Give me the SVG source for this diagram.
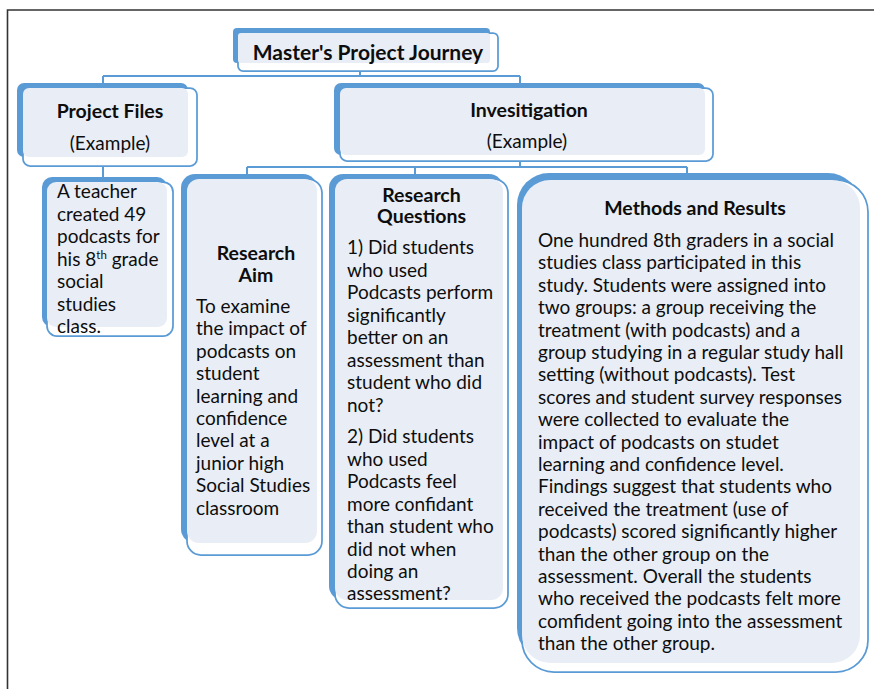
<svg xmlns="http://www.w3.org/2000/svg" width="874" height="689" viewBox="0 0 874 689">
<style>
.bk{fill:#5B9BD5}
.ol{fill:#ffffff;stroke:#5B9BD5;stroke-width:1.75}
.lt{fill:#E9EDF5}
.cn{fill:none;stroke:#5B9BD5;stroke-width:2}
text{font-family:Lato,"Open Sans","Liberation Sans",sans-serif;fill:#0d0d0d}
.h{font-weight:bold;font-size:19.5px;text-anchor:middle}
.b{font-size:19px}
.c{text-anchor:middle}
</style>
<rect x="0" y="0" width="874" height="689" fill="#ffffff"/>
<path d="M7.5,689 V10 H874" fill="none" stroke="#333" stroke-width="1.6"/>

<g id="connectors">
<path class="cn" d="M360,71 V76 M103,76 H520 M103,76 V83 M520,76 V83"/>
<path class="cn" d="M103,166 V177"/>
<path class="cn" d="M520,161 V167 M247,167 H687 M247,167 V174 M415,167 V174 M687,167 V173"/>
</g>

<g id="master">
<rect class="bk" x="233" y="28" width="257" height="35" rx="4"/>
<rect class="ol" x="238" y="33" width="260" height="38" rx="5"/>
<rect class="lt" x="238" y="33" width="252" height="30" rx="3"/>
<text class="h" x="368" y="60" style="font-size:21px">Master's Project Journey</text>
</g>

<g id="project-files">
<rect class="bk" x="17" y="83" width="171" height="74" rx="7"/>
<rect class="ol" x="23" y="88" width="174" height="78" rx="7"/>
<rect class="lt" x="23" y="88" width="165" height="69" rx="6"/>
<text class="h" x="110" y="118">Project Files</text>
<text class="b c" x="110" y="150">(Example)</text>
</g>

<g id="investigation">
<rect class="bk" x="334" y="83" width="371" height="72" rx="7"/>
<rect class="ol" x="340" y="88" width="373" height="73" rx="7"/>
<rect class="lt" x="340" y="88" width="365" height="67" rx="6"/>
<text class="h" x="529" y="117">Invesitigation</text>
<text class="b c" x="527" y="148">(Example)</text>
</g>

<g id="teacher">
<rect class="bk" x="42" y="177" width="125" height="150" rx="10"/>
<rect class="ol" x="47" y="182" width="126" height="154" rx="10"/>
<rect class="lt" x="47" y="182" width="120" height="145" rx="9"/>
<text class="b" x="57" y="198">A teacher</text>
<text class="b" x="57" y="220.5">created 49</text>
<text class="b" x="57" y="243">podcasts for</text>
<text class="b" x="57" y="265.5">his 8<tspan dy="-7" style="font-size:11.5px">th</tspan><tspan dy="7"> grade</tspan></text>
<text class="b" x="57" y="288">social</text>
<text class="b" x="57" y="310.5">studies</text>
<text class="b" x="57" y="333">class.</text>
</g>

<g id="research-aim">
<rect class="bk" x="181" y="174" width="136" height="369" rx="14"/>
<rect class="ol" x="187" y="179" width="135" height="376" rx="14"/>
<rect class="lt" x="187" y="179" width="130" height="364" rx="12"/>
<text class="h" x="256" y="260">Research</text>
<text class="h" x="256" y="282">Aim</text>
<text class="b" x="196" y="313">To examine</text>
<text class="b" x="196" y="335.4">the impact of</text>
<text class="b" x="196" y="357.8">podcasts on</text>
<text class="b" x="196" y="380.2">student</text>
<text class="b" x="196" y="402.6">learning and</text>
<text class="b" x="196" y="425">confidence</text>
<text class="b" x="196" y="447.4">level at a</text>
<text class="b" x="196" y="469.8">junior high</text>
<text class="b" x="196" y="492.2">Social Studies</text>
<text class="b" x="196" y="514.6">classroom</text>
</g>

<g id="research-questions">
<rect class="bk" x="329" y="174" width="174" height="426" rx="14"/>
<rect class="ol" x="335" y="179" width="173" height="429" rx="14"/>
<rect class="lt" x="335" y="179" width="168" height="421" rx="12"/>
<text class="h" x="421.5" y="202">Research</text>
<text class="h" x="421.5" y="223">Questions</text>
<text class="b" x="347" y="254">1) Did students</text>
<text class="b" x="347" y="276.5">who used</text>
<text class="b" x="347" y="299">Podcasts perform</text>
<text class="b" x="347" y="321.5">significantly</text>
<text class="b" x="347" y="344">better on an</text>
<text class="b" x="347" y="366.5">assessment than</text>
<text class="b" x="347" y="389">student who did</text>
<text class="b" x="347" y="411.5">not?</text>
<text class="b" x="347" y="443">2) Did students</text>
<text class="b" x="347" y="465.5">who used</text>
<text class="b" x="347" y="488">Podcasts feel</text>
<text class="b" x="347" y="510.5">more confidant</text>
<text class="b" x="347" y="533">than student who</text>
<text class="b" x="347" y="555.5">did not when</text>
<text class="b" x="347" y="578">doing an</text>
<text class="b" x="347" y="600">assessment?</text>
</g>

<g id="methods-results">
<rect class="bk" x="517" y="173" width="343" height="487" rx="32"/>
<rect class="ol" x="522" y="180" width="346" height="492" rx="32"/>
<rect class="lt" x="522" y="180" width="338" height="483" rx="28"/>
<text class="h" x="695" y="215">Methods and Results</text>
<text class="b" x="538" y="247">One hundred 8th graders in a social</text>
<text class="b" x="538" y="269.4">studies class participated in this</text>
<text class="b" x="538" y="291.8">study. Students were assigned into</text>
<text class="b" x="538" y="314.2">two groups: a group receiving the</text>
<text class="b" x="538" y="336.6">treatment (with podcasts) and a</text>
<text class="b" x="538" y="359">group studying in a regular study hall</text>
<text class="b" x="538" y="381.4">setting (without podcasts). Test</text>
<text class="b" x="538" y="403.8">scores and student survey responses</text>
<text class="b" x="538" y="426.2">were collected to evaluate the</text>
<text class="b" x="538" y="448.6">impact of podcasts on studet</text>
<text class="b" x="538" y="471">learning and confidence level.</text>
<text class="b" x="538" y="493.4">Findings suggest that students who</text>
<text class="b" x="538" y="515.8">received the treatment (use of</text>
<text class="b" x="538" y="538.2">podcasts) scored significantly higher</text>
<text class="b" x="538" y="560.6">than the other group on the</text>
<text class="b" x="538" y="583">assessment. Overall the students</text>
<text class="b" x="538" y="605.4">who received the podcasts felt more</text>
<text class="b" x="538" y="627.8">comfident going into the assessment</text>
<text class="b" x="538" y="650.2">than the other group.</text>
</g>
</svg>
